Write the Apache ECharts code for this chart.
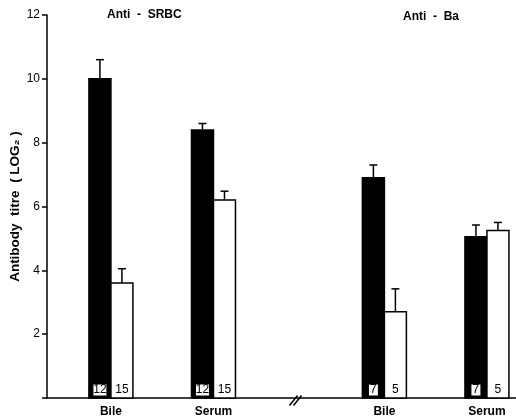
<!DOCTYPE html>
<html>
<head>
<meta charset="utf-8">
<script src="https://cdn.jsdelivr.net/npm/echarts@6/dist/echarts.min.js"></script>
<style>
  html, body { margin: 0; padding: 0; background: #fff; }
  #chart { width: 516px; height: 420px; }
</style>
</head>
<body>
<div id="chart"></div>
<script>
// group positions on the x axis (gap between the two antigen groups is wider)
const categories = ['Bile', 'Serum', 'Bile', 'Serum'];
const positions = [0, 3, 8, 11];
const groupTitles = ['Anti  -  SRBC', 'Anti  -  Ba'];

// black bars (control) and white bars
const blackMeans = [10.0, 8.4, 6.9, 5.05];
const blackErrTops = [10.6, 8.6, 7.3, 5.42];
const blackN = [12, 12, 7, 7];
const whiteMeans = [3.6, 6.2, 2.7, 5.25];
const whiteErrTops = [4.05, 6.48, 3.42, 5.5];
const whiteN = [15, 15, 5, 5];

const FONT = '"Liberation Sans", Arial, sans-serif';
const BAR_W = 22;

function buildData(means, errs, ns) {
  return positions.map((p, i) => [p, means[i], errs[i], ns[i]]);
}

function makeRender(isBlack) {
  return function (params, api) {
    const x = api.value(0);
    const base = api.coord([x, 0]);
    const top = api.coord([x, api.value(1)]);
    const errTop = api.coord([x, api.value(2)]);
    const left = isBlack ? base[0] - BAR_W : base[0];
    const cx = left + BAR_W / 2;
    const n = String(api.value(3));
    const children = [
      {
        type: 'line',
        shape: { x1: cx, y1: top[1], x2: cx, y2: errTop[1] },
        style: { stroke: '#000', lineWidth: 1.5 }
      },
      {
        type: 'line',
        shape: { x1: cx - 4, y1: errTop[1], x2: cx + 4, y2: errTop[1] },
        style: { stroke: '#000', lineWidth: 1.5 }
      },
      {
        type: 'rect',
        shape: { x: left, y: top[1], width: BAR_W, height: base[1] - top[1] },
        style: { fill: isBlack ? '#000' : '#fff', stroke: '#000', lineWidth: 1.5 }
      }
    ];
    if (isBlack) {
      const bw = n.length > 1 ? 14 : 10;
      children.push({
        type: 'rect',
        shape: { x: cx - bw / 2, y: base[1] - 14, width: bw, height: 12 },
        style: { fill: '#fff', stroke: '#000', lineWidth: 1 }
      });
    }
    children.push({
      type: 'text',
      style: {
        text: n, x: cx, y: base[1] - 8,
        align: 'center', verticalAlign: 'middle',
        font: '12px ' + FONT, fill: '#000'
      }
    });
    return { type: 'group', children: children };
  };
}

const chart = echarts.init(document.getElementById('chart'));

chart.setOption({
  backgroundColor: '#fff',
  animation: false,
  grid: { left: 47, right: 0, top: 15, bottom: 22, outerBoundsMode: 'none', containLabel: false },
  xAxis: {
    type: 'value',
    min: -1.87,
    max: 11.85,
    splitLine: { show: false },
    axisTick: { show: false },
    axisLine: { show: true, onZero: false, lineStyle: { color: '#000', width: 1.5 } },
    axisLabel: {
      customValues: positions,
      formatter: function (v) {
        const i = positions.indexOf(v);
        return i >= 0 ? categories[i] : '';
      },
      color: '#000',
      fontFamily: FONT,
      fontWeight: 'bold',
      fontSize: 12,
      margin: 8
    }
  },
  yAxis: {
    type: 'value',
    min: 0,
    max: 12,
    interval: 2,
    splitLine: { show: false },
    axisLine: { show: true, onZero: false, lineStyle: { color: '#000', width: 1.5 } },
    axisTick: { show: true, length: 5, lineStyle: { color: '#000', width: 1.5 } },
    axisLabel: {
      color: '#000',
      fontFamily: FONT,
      fontSize: 12,
      margin: 7,
      formatter: v => (v === 0 ? '' : String(v))
    },
    name: 'Antibody  titre  ( LOG\u2082 )',
    nameLocation: 'middle',
    nameGap: 25,
    nameMoveOverlap: false,
    nameTextStyle: {
      color: '#000',
      fontFamily: FONT,
      fontWeight: 'bold',
      fontSize: 13.5
    }
  },
  graphic: [
    {
      type: 'text', left: 107, top: 9,
      style: { text: groupTitles[0], font: 'bold 12px ' + FONT, fill: '#000' }
    },
    {
      type: 'text', left: 403, top: 11,
      style: { text: groupTitles[1], font: 'bold 12px ' + FONT, fill: '#000' }
    },
    {
      type: 'group', left: 287, top: 393,
      children: [
        { type: 'line', shape: { x1: 0, y1: 10, x2: 8, y2: 0 }, style: { stroke: '#000', lineWidth: 1.5 } },
        { type: 'line', shape: { x1: 4, y1: 10, x2: 12, y2: 0 }, style: { stroke: '#000', lineWidth: 1.5 } }
      ]
    }
  ],
  series: [
    {
      type: 'custom',
      name: 'black',
      renderItem: makeRender(true),
      encode: { x: 0, y: [1, 2] },
      data: buildData(blackMeans, blackErrTops, blackN)
    },
    {
      type: 'custom',
      name: 'white',
      renderItem: makeRender(false),
      encode: { x: 0, y: [1, 2] },
      data: buildData(whiteMeans, whiteErrTops, whiteN)
    }
  ]
});
</script>
</body>
</html>
